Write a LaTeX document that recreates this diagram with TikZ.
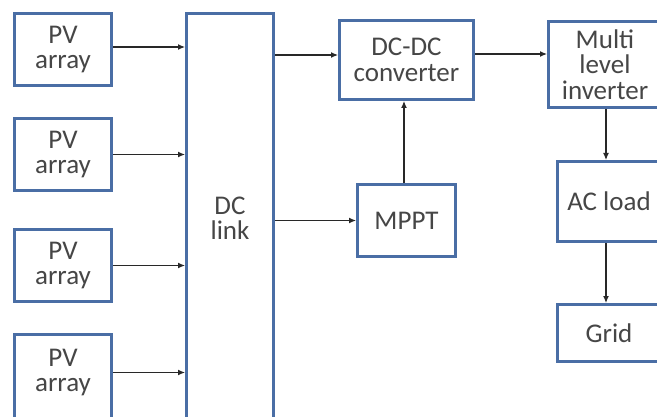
\documentclass[tikz,border=0pt]{standalone}
\usepackage{fontspec}
\setmainfont{Carlito}
\usetikzlibrary{arrows.meta,calc}
\definecolor{boxblue}{RGB}{74,110,165}
\definecolor{txtgray}{RGB}{70,70,70}
\definecolor{arrowgray}{RGB}{40,40,40}
\begin{document}
\begin{tikzpicture}[x=1pt,y=1pt,
  blk/.style={draw=boxblue, line width=3pt, fill=white, inner sep=0pt,
    align=center, text=txtgray, font=\fontsize{27}{25.5}\selectfont},
  lbl/.style={inner sep=0pt, align=center, text=txtgray,
    font=\fontsize{27}{25.5}\selectfont},
  arr/.style={draw=arrowgray, line width=1.2pt,
    -{Latex[length=7pt,width=6pt]}}]
\useasboundingbox (0,0) rectangle (657,416);
\fill[white] (0,0) rectangle (657,416);
\clip (0,0) rectangle (657,416);

% PV strings
\node[blk, minimum width=97pt, minimum height=72pt] (pv1) at (63,366.5) {PV\\array};
\node[blk, minimum width=97pt, minimum height=72pt] (pv2) at (63,261.5) {PV\\array};
\node[blk, minimum width=97pt, minimum height=72pt] (pv3) at (63,150.5) {PV\\array};
\node[blk, minimum width=97pt, minimum height=100pt, anchor=north] (pv4) at (63,83) {};
\node[lbl] (pv4t) at (63,43.5) {PV\\array};

% DC link bus
\node[blk, minimum width=87pt, minimum height=409pt] (dclink) at (230,198) {DC\\link};

% Converter chain
\node[blk, minimum width=134pt, minimum height=79pt] (dcdc) at (406.5,356) {DC-DC\\converter};
\node[blk, minimum width=98pt, minimum height=72pt] (mppt) at (406.5,195.5) {MPPT};
\node[blk, minimum width=113pt, minimum height=86pt] (inv) at (605,351.5) {Multi\\level\\inverter};
\node[blk, minimum width=103pt, minimum height=80pt] (load) at (609,214.5) {AC load};
\node[blk, minimum width=103pt, minimum height=57pt] (grid) at (609,83) {Grid};

% PV strings into the DC link
\draw[arr] ([yshift=2.5pt]pv1.east) -- ([yshift=2.5pt]pv1.east -| dclink.west);
\draw[arr] (pv2.east) -- (pv2.east -| dclink.west);
\draw[arr] (pv3.east) -- (pv3.east -| dclink.west);
\draw[arr] (pv4.east |- pv4t) -- (pv4t -| dclink.west);

% DC link outputs
\draw[arr] ([yshift=5pt]dcdc.west -| dclink.east) -- ([yshift=5pt]dcdc.west);
\draw[arr] (mppt.west -| dclink.east) -- (mppt.west);
\draw[arr] ([xshift=-2.5pt]mppt.north) -- ([xshift=-2.5pt]mppt.north |- dcdc.south);

% Towards the load and grid
\draw[arr] ([yshift=6pt]dcdc.east) -- ([yshift=6pt]dcdc.east -| inv.west);
\draw[arr] ([xshift=1pt]inv.south) -- ([xshift=1pt]inv.south |- load.north);
\draw[arr] ([xshift=1pt]inv.south |- load.south) -- ([xshift=1pt]inv.south |- grid.north);
\end{tikzpicture}
\end{document}
